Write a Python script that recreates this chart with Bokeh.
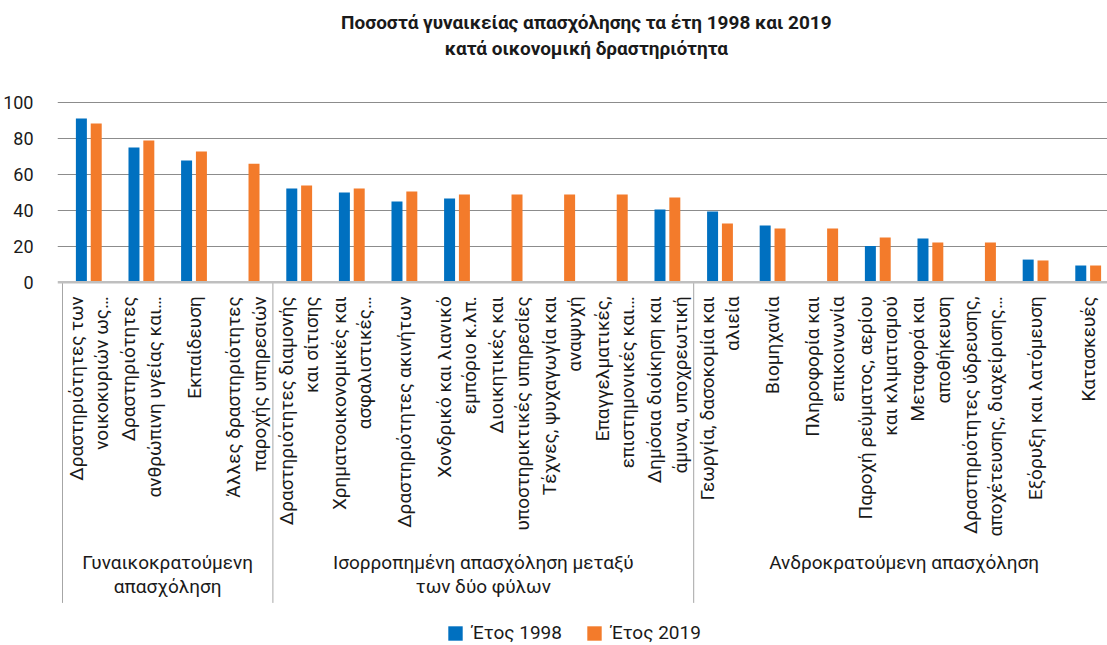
import numpy as np
from bokeh.plotting import figure
from bokeh.models import Range1d, FixedTicker, Span, Legend, LegendItem, ColumnDataSource
from bokeh.core.properties import value
from bokeh.embed import file_html
from bokeh.resources import INLINE

# ---------------- data ----------------
title_text = "Ποσοστά γυναικείας απασχόλησης τα έτη 1998 και 2019\nκατά οικονομική δραστηριότητα"

categories = [
    "Δραστηριότητες των\nνοικοκυριών ως…",
    "Δραστηριότητες\nανθρώπινη υγείας και…",
    "Εκπαίδευση",
    "Άλλες δραστηριότητες\nπαροχής υπηρεσιών",
    "Δραστηριότητες διαμονής\nκαι σίτισης",
    "Χρηματοοικονομικές και\nασφαλιστικές…",
    "Δραστηριότητες ακινήτων",
    "Χονδρικό και λιανικό\nεμπόριο κ.λπ.",
    "Διοικητικές και\nυποστηρικτικές υπηρεσίες",
    "Τέχνες, ψυχαγωγία και\nαναψυχή",
    "Επαγγελματικές,\nεπιστημονικές και…",
    "Δημόσια διοίκηση και\nάμυνα, υποχρεωτική",
    "Γεωργία, δασοκομία και\nαλιεία",
    "Βιομηχανία",
    "Πληροφορία και\nεπικοινωνία",
    "Παροχή ρεύματος, αερίου\nκαι κλιματισμού",
    "Μεταφορά και\nαποθήκευση",
    "Δραστηριότητες ύδρευσης,\nαποχέτευσης, διαχείρισης…",
    "Εξόρυξη και λατόμευση",
    "Κατασκευές",
]

groups = [
    "Γυναικοκρατούμενη\nαπασχόληση",
    "Ισορροπημένη απασχόληση μεταξύ\nτων δύο φύλων",
    "Ανδροκρατούμενη απασχόληση",
]
group_sizes = [4, 8, 8]

series_names = ["Έτος 1998", "Έτος 2019"]
year_1998 = [91.1, 75.0, 67.7, None, 52.1, 49.9, 44.9, 46.6, None, None,
             None, 40.5, 39.4, 31.6, None, 20.1, 24.3, None, 12.6, 9.3]
year_2019 = [88.3, 78.9, 72.7, 66.0, 53.8, 52.1, 50.5, 48.8, 48.8, 48.8,
             48.8, 47.2, 32.7, 29.9, 29.9, 24.9, 22.1, 22.1, 12.1, 9.3]

y_ticks = [0, 20, 40, 60, 80, 100]

# ---------------- styling / layout ----------------
W, H = 1107, 645
FONT = "Roboto"
TXT = "#1a1a1a"
BLUE = "#0070C0"
ORANGE = "#F37B2B"

n = len(categories)
centers = np.arange(n) + 0.5

p = figure(width=W, height=H, output_backend="svg", toolbar_location=None,
           x_axis_location=None, tools="",
           x_range=Range1d(-0.0951, 19.867), y_range=Range1d(-202.2, 156.8),
           min_border=0, min_border_left=57)
p.outline_line_color = None
p.background_fill_color = "white"
p.xgrid.visible = False

# y axis
p.yaxis.ticker = FixedTicker(ticks=y_ticks)
p.yaxis.axis_line_color = None
p.yaxis.major_tick_line_color = None
p.yaxis.minor_tick_line_color = None
p.yaxis.major_label_standoff = 18
p.yaxis.major_label_text_font = FONT
p.yaxis.major_label_text_font_size = "18px"
p.yaxis.major_label_text_color = TXT

p.ygrid.ticker = FixedTicker(ticks=[t for t in y_ticks if t > 0])
p.ygrid.grid_line_color = "#8c8c8c"
p.ygrid.grid_line_width = 1.2

# bars
def bar_source(vals, offset):
    xs = [c + offset for c, v in zip(centers, vals) if v is not None]
    ts = [v for v in vals if v is not None]
    return ColumnDataSource(dict(x=xs, top=ts))

bw = 0.209
r98 = p.vbar(x="x", top="top", bottom=0, width=bw, source=bar_source(year_1998, -0.141),
             fill_color=BLUE, line_color=None)
r19 = p.vbar(x="x", top="top", bottom=0, width=bw, source=bar_source(year_2019, 0.141),
             fill_color=ORANGE, line_color=None)

# baseline at 0
p.add_layout(Span(location=0, dimension="width", line_color="#bfbfbf", line_width=2.5))

# category labels (rotated)
p.text(x=centers, y=[-7.8] * n, text=categories, angle=np.pi / 2,
       text_align="right", text_baseline="middle",
       text_font=value(FONT), text_font_size="19px", text_color=TXT,
       text_line_height=1.1)

# group separators and labels
bounds = np.concatenate([[0], np.cumsum(group_sizes)])
p.segment(x0=bounds, y0=[0] * len(bounds), x1=bounds, y1=[-178.5] * len(bounds),
          line_color="#a6a6a6", line_width=1)
gcenters = (bounds[:-1] + bounds[1:]) / 2
p.text(x=gcenters, y=[-149.5] * len(groups), text=groups,
       text_align="center", text_baseline="top",
       text_font=value(FONT), text_font_size="19px", text_color=TXT,
       text_line_height=1.05)

# title
p.text(x=[9.96], y=[137.3], text=[title_text], text_align="center", text_baseline="middle",
       text_font=value(FONT), text_font_size="19px", text_font_style="bold",
       text_color=TXT, text_line_height=1.12)

# legend
legend = Legend(items=[LegendItem(label=series_names[0], renderers=[r98]),
                       LegendItem(label=series_names[1], renderers=[r19])],
                orientation="horizontal", location=(389, 1),
                glyph_width=18, glyph_height=18, label_standoff=8, spacing=23,
                padding=0, margin=0, border_line_color=None,
                background_fill_alpha=0,
                label_text_font=FONT, label_text_font_size="19px",
                label_text_color=TXT)
p.add_layout(legend, "center")

open("out.html", "w").write(file_html(p, INLINE))
